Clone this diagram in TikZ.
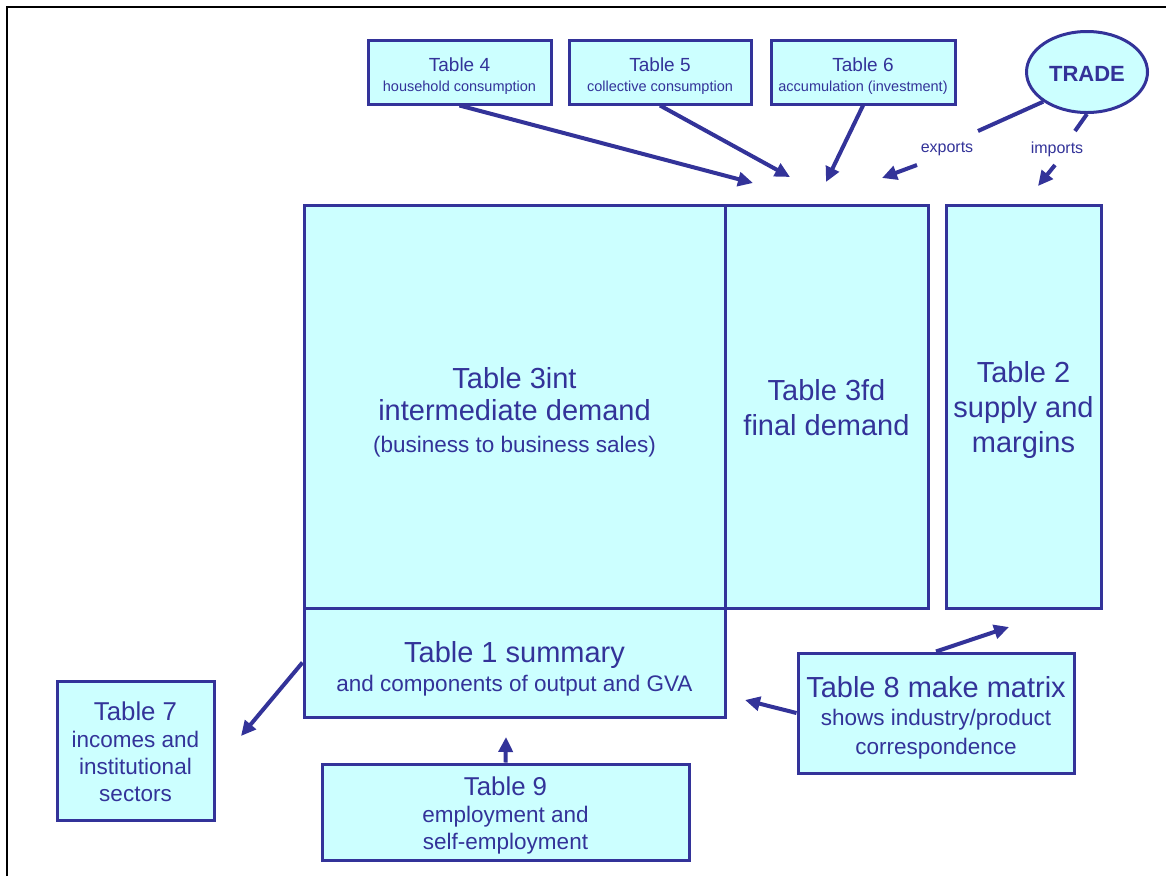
\documentclass[tikz,border=0pt]{standalone}
\usepackage{fontspec}
\setmainfont{Liberation Sans}
\usetikzlibrary{arrows.meta,shapes.geometric,calc}
\definecolor{tblue}{HTML}{333399}
\definecolor{tcyan}{HTML}{CCFFFF}
\newcommand\xsBig{\fontsize{29}{33}\selectfont}
\newcommand\xsSub{\fontsize{22.5}{27}\selectfont}
\newcommand\xsMid{\fontsize{25.8}{27}\selectfont}
\newcommand\xsTop{\fontsize{19}{20}\selectfont}
\newcommand\xsTopSub{\fontsize{14.5}{20}\selectfont}
\begin{document}
\begin{tikzpicture}[x=1pt,y=-1pt,
  box/.style={rectangle,draw=tblue,fill=tcyan,line width=3pt,text=tblue,align=center,inner sep=0pt},
  arr/.style={draw=tblue,line width=4pt,-{Triangle[length=15pt,width=14pt]}},
  ln/.style={draw=tblue,line width=4pt},
  lbl/.style={text=tblue,font=\fontsize{16}{18}\selectfont,inner sep=0pt}]
\useasboundingbox (0,0) rectangle (1166,876);
\fill[white] (0,0) rectangle (1166,876);
% frame
\draw[black,line width=2pt] (7,876) -- (7,7) -- (1166,7);

% top boxes
\node[box,minimum width=183pt,minimum height=64pt,font=\xsTop] (t4) at (459.5,72)
  {\xsTop\rule{0pt}{21.5pt}Table 4\\\xsTopSub household consumption};
\node[box,minimum width=182pt,minimum height=64pt,font=\xsTop] (t5) at (660,72)
  {\xsTop\rule{0pt}{21.5pt}Table 5\\\xsTopSub collective consumption};
\node[box,minimum width=184pt,minimum height=64pt,font=\xsTop] (t6) at (863,72)
  {\xsTop\rule{0pt}{21.5pt}Table 6\\\xsTopSub accumulation (investment)};
\node[ellipse,draw=tblue,fill=tcyan,line width=3pt,text=tblue,inner sep=0pt,
  minimum width=121pt,minimum height=81pt,font=\fontsize{22}{24}\selectfont\bfseries] (trade) at (1087,72) {\rule{0pt}{19.5pt}TRADE};

% main tables
\node[box,minimum width=421pt,minimum height=403pt,font=\fontsize{29}{32}\selectfont] (t3int) at (514.5,406.5)
  {\xsBig\rule{0pt}{33pt}Table 3int\\\xsBig intermediate demand\\\xsSub (business to business sales)};
\node[box,minimum width=203pt,minimum height=403pt,font=\fontsize{29}{35}\selectfont] (t3fd) at (826.5,406.5)
  {\xsBig\rule{0pt}{23pt}Table 3fd\\\xsBig final demand};
\node[box,minimum width=155pt,minimum height=403pt,font=\fontsize{29}{35}\selectfont] (t2) at (1023.5,406.5)
  {\xsBig\rule{0pt}{28pt}Table 2\\\xsBig supply and\\\xsBig margins};
\node[box,minimum width=421pt,minimum height=109pt,font=\fontsize{29}{29}\selectfont] (t1) at (514.5,662.5)
  {\xsBig\rule{0pt}{33pt}Table 1 summary\\\xsSub and components of output and GVA};

% bottom boxes
\node[box,minimum width=157pt,minimum height=139pt,font=\fontsize{22.5}{27}\selectfont] (t7) at (135.5,750.5)
  {\xsMid\rule{0pt}{21pt}Table 7\\\xsSub incomes and\\\xsSub institutional\\\xsSub sectors};
\node[box,minimum width=367pt,minimum height=96pt,font=\fontsize{22.5}{27}\selectfont] (t9) at (505.5,812)
  {\xsMid\rule{0pt}{26pt}Table 9\\\xsSub employment and\\\xsSub self-employment};
\node[box,minimum width=276pt,minimum height=120pt,font=\fontsize{22.5}{28.5}\selectfont] (t8) at (936,713)
  {\xsBig\rule{0pt}{30pt}Table 8 make matrix\\\xsSub shows industry/product\\\xsSub correspondence};

% labels
\node[lbl] (exl) at (947,149) {exports};
\node[lbl] (iml) at (1057,149) {imports};

% coordinates for free ends
\coordinate (e4) at (753,183);
\coordinate (e5) at (790,177);
\coordinate (e6) at (826,182);
\coordinate (exA) at (978,131);
\coordinate (exB) at (917,165);
\coordinate (exE) at (882,178);
\coordinate (imA) at (1075,131);
\coordinate (imB) at (1055,165);
\coordinate (imE) at (1038,186);
\coordinate (e1) at (241,736);
\coordinate (e9) at (506,737);
\coordinate (e8a) at (745,700);
\coordinate (e8b) at (1009,627);

% connectors
\draw[arr] (t4.south) -- (e4);
\draw[arr] (t5.south) -- (e5);
\draw[arr] (t6.south) -- (e6);
\draw[ln] (trade.south west) -- (exA);
\draw[arr] (exB) -- (exE);
\draw[ln] (trade.south) -- (imA);
\draw[arr] (imB) -- (imE);
\draw[arr] (t1.west) -- (e1);
\draw[arr] (t9.north) -- (e9);
\draw[arr] (t8.west) -- (e8a);
\draw[arr] (t8.north) -- (e8b);
\end{tikzpicture}
\end{document}
